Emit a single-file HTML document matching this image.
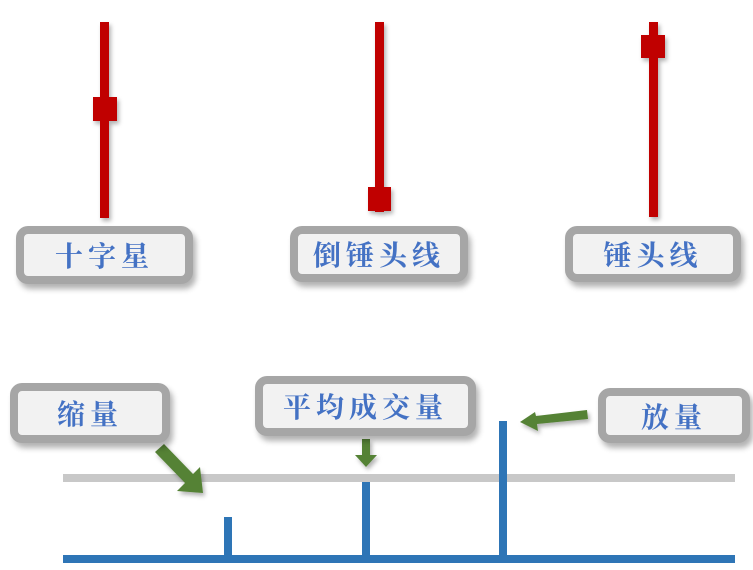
<!DOCTYPE html>
<html><head><meta charset="utf-8"><style>
body{margin:0;width:753px;height:570px;background:#fff;overflow:hidden;position:relative}
.b{position:absolute;box-sizing:border-box;border:8px solid #a6a6a6;border-radius:12px;background:#f2f2f2;box-shadow:3px 5px 6px rgba(0,0,0,.3);display:flex;align-items:center;justify-content:center;font-family:"Liberation Serif","Noto Serif CJK SC",serif;font-weight:bold;color:#4472c4;font-size:28px;letter-spacing:5px}
</style></head><body>
<svg width="753" height="570" style="position:absolute;left:0;top:0">
<defs><filter id="s"><feDropShadow dx="2" dy="3" stdDeviation="2" flood-opacity=".3"/></filter></defs>
<g fill="#c00000" filter="url(#s)">
<rect x="100" y="22" width="9" height="196"/><rect x="93" y="97" width="24" height="24"/>
<rect x="375" y="22" width="9" height="190"/><rect x="368" y="187" width="23" height="24"/>
<rect x="649" y="22" width="9" height="195"/><rect x="641" y="35" width="24" height="23"/>
</g>
<rect x="63" y="474" width="672" height="8" fill="#c8c8c8"/>
<g fill="#2e75b6">
<rect x="63" y="555" width="672" height="8"/>
<rect x="224" y="517" width="8" height="42"/>
<rect x="362" y="482" width="8" height="77"/>
<rect x="499" y="421" width="8" height="138"/>
</g>
<g fill="#548235" filter="url(#s)">
<polygon points="155,452 164,444 193,474 200,467 203,493 177,491 185,483"/>
<polygon points="362,439 370,439 370,455 377,455 366,467 355,455 362,455"/>
<polygon points="587,410 588,419 537,424 538,431 520,422 535,412 536,416"/>
</g>
</svg>
<div class="b" style="left:16px;top:226px;width:177px;height:58px">十字星</div>
<div class="b" style="left:290px;top:226px;width:178px;height:56px">倒锤头线</div>
<div class="b" style="left:565px;top:226px;width:176px;height:56px">锤头线</div>
<div class="b" style="left:10px;top:383px;width:160px;height:60px">缩量</div>
<div class="b" style="left:255px;top:376px;width:221px;height:60px">平均成交量</div>
<div class="b" style="left:598px;top:388px;width:152px;height:55px">放量</div>
</body></html>
